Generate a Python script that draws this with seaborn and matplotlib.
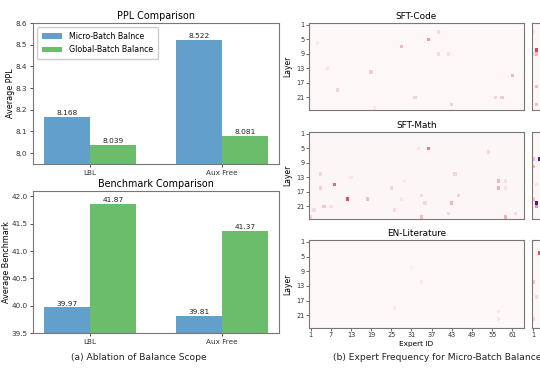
import numpy as np
import pandas as pd
import matplotlib
matplotlib.use("Agg")
import matplotlib.pyplot as plt
import seaborn as sns
from matplotlib.colors import LinearSegmentedColormap

# ---- bar chart data ----
methods = ["LBL", "Aux Free"]
scopes = ["Micro-Batch Balnce", "Global-Batch Balance"]
ppl_micro = [8.168, 8.522]
ppl_global = [8.039, 8.081]
bench_micro = [39.97, 39.81]
bench_global = [41.87, 41.37]

# ---- heatmap data ----
n_layers = 24
n_experts = 64
layer_ticks = [1, 5, 9, 13, 17, 21]
expert_ticks = [1, 7, 13, 19, 25, 31, 37, 43, 49, 55, 61]
base_level = [0.006, 0.008, 0.004, 0.008]
# (layer, expert, intensity) for the cells that stand out, 1-based
code_hot = [(5, 36, 0.28), (7, 28, 0.2), (3, 39, 0.1), (9, 39, 0.1), (9, 42, 0.08),
            (14, 19, 0.15), (15, 61, 0.2), (19, 9, 0.13), (21, 32, 0.13), (21, 56, 0.12),
            (21, 58, 0.15), (23, 43, 0.13), (13, 6, 0.07), (6, 3, 0.05), (24, 20, 0.06)]
math_hot = [(5, 36, 0.35), (15, 8, 0.42), (19, 12, 0.5), (19, 18, 0.18), (16, 4, 0.14),
            (12, 4, 0.12), (21, 5, 0.16), (22, 2, 0.1), (13, 13, 0.07), (16, 25, 0.12),
            (12, 44, 0.12), (18, 45, 0.12), (20, 43, 0.2), (14, 57, 0.2), (16, 57, 0.22),
            (6, 54, 0.1), (24, 59, 0.22), (18, 34, 0.1), (24, 34, 0.18), (20, 35, 0.1),
            (5, 33, 0.06), (22, 26, 0.1), (23, 42, 0.1), (19, 28, 0.06), (24, 1, 0.12),
            (23, 62, 0.1), (14, 59, 0.08), (16, 59, 0.08), (14, 29, 0.05), (21, 7, 0.08)]
lit_hot = [(20, 57, 0.06), (22, 57, 0.06), (12, 34, 0.05), (19, 26, 0.05), (8, 31, 0.04)]
# the next column of panels, only its first experts are inside the picture
next_top_hot = [(8, 2, 0.55), (9, 2, 0.2), (9, 1, 0.1), (18, 2, 0.18), (23, 2, 0.18), (3, 1, 0.06)]
next_mid_hot = [(8, 1, 0.18), (8, 3, 0.95), (10, 1, 0.2), (20, 2, 0.95), (19, 1, 0.15),
                (21, 2, 0.3), (15, 2, 0.08)]
next_bot_hot = [(4, 3, 0.5), (12, 1, 0.18), (16, 2, 0.1), (22, 1, 0.1)]


def build_matrix(base, hot):
    m = np.full((n_layers, n_experts), base)
    for layer, expert, v in hot:
        m[layer - 1, expert - 1] = v
    return pd.DataFrame(m, index=range(1, n_layers + 1), columns=range(1, n_experts + 1))


freq_cmap = LinearSegmentedColormap.from_list(
    "freq", [(0, "#fdf8f8"), (0.15, "#f6c9d1"), (0.35, "#ef7c86"),
             (0.55, "#e2444c"), (0.8, "#9a1f6e"), (1, "#4b1488")])

W, H = 540, 372
fig = plt.figure(figsize=(W / 100, H / 100), dpi=100)
plt.rcParams['font.family'] = ['DejaVu Sans']


def px_axes(x0, y0, x1, y1):
    return fig.add_axes([x0 / W, 1 - y1 / H, (x1 - x0) / W, (y1 - y0) / H])


spine_col = "#777777"
bar_colors = ["#1f77b4", "#2ca02c"]


def bar_panel(ax, micro, glob, ylabel, title, fmt, ylim, yticks, legend):
    df = pd.DataFrame({"method": methods * 2,
                       "scope": [scopes[0]] * 2 + [scopes[1]] * 2,
                       "value": list(micro) + list(glob)})
    sns.barplot(data=df, x="method", y="value", hue="scope", palette=bar_colors,
                width=0.7, saturation=1, alpha=0.7, errorbar=None, ax=ax)
    for c in ax.containers:
        ax.bar_label(c, fmt=fmt, fontsize=5.3, padding=0.5, color="#222222")
    ax.set_ylim(*ylim)
    ax.set_xlim(-0.435, 1.435)
    ax.set_yticks(yticks)
    ax.set_xlabel("")
    ax.set_ylabel(ylabel, fontsize=5.8, labelpad=0.5)
    ax.set_title(title, fontsize=6.9, pad=3)
    ax.tick_params(labelsize=5.2, length=2.5, width=0.6, pad=1.5, colors="#333333")
    for s in ax.spines.values():
        s.set_visible(True)
        s.set_color(spine_col)
        s.set_linewidth(0.8)
    if legend:
        ax.legend(loc="upper left", fontsize=5.7, handlelength=2.6, borderpad=0.6,
                  labelspacing=0.6, framealpha=1, edgecolor="#cccccc")
    else:
        ax.get_legend().remove()


ax_ppl = px_axes(33, 23, 279, 164)
bar_panel(ax_ppl, ppl_micro, ppl_global, "Average PPL", "PPL Comparison", "%.3f",
          (7.95, 8.6), np.round(np.arange(8.0, 8.61, 0.1), 1), True)
ax_bench = px_axes(33, 191, 279, 333)
bar_panel(ax_bench, bench_micro, bench_global, "Average Benchmark", "Benchmark Comparison",
          "%.2f", (39.5, 42.1), np.arange(39.5, 42.01, 0.5), False)


def heat_panel(ax, base, hot, title, show_y, xticks):
    sns.heatmap(build_matrix(base, hot), cmap=freq_cmap, vmin=0, vmax=1, cbar=False,
                xticklabels=False, yticklabels=False, ax=ax)
    for s in ax.spines.values():
        s.set_visible(True)
        s.set_color(spine_col)
        s.set_linewidth(0.8)
    if show_y:
        ax.set_yticks([t - 0.5 for t in layer_ticks])
        ax.set_yticklabels(layer_ticks, rotation=0)
        ax.set_ylabel("Layer", fontsize=5.5, labelpad=3)
    else:
        ax.set_yticks([])
        ax.set_ylabel("")
    if xticks:
        ax.set_xticks([t - 0.5 for t in xticks])
        ax.set_xticklabels(xticks, rotation=0)
        if show_y:
            ax.set_xlabel("Expert ID", fontsize=5.3, labelpad=2)
    else:
        ax.set_xticks([])
        ax.set_xlabel("")
    ax.tick_params(labelsize=4.7, length=2, width=0.5, pad=1, colors="#333333")
    if title:
        ax.set_title(title, fontsize=6.4, pad=3)


rows = [(23, 110), (132, 219), (240, 328)]
heat_panel(px_axes(309, rows[0][0], 524, rows[0][1]), base_level[0], code_hot, "SFT-Code", True, None)
heat_panel(px_axes(309, rows[1][0], 524, rows[1][1]), base_level[1], math_hot, "SFT-Math", True, None)
heat_panel(px_axes(309, rows[2][0], 524, rows[2][1]), base_level[2], lit_hot, "EN-Literature", True,
           expert_ticks)

heat_panel(px_axes(531.5, rows[0][0], 746.5, rows[0][1]), base_level[3], next_top_hot, None, False, None)
heat_panel(px_axes(531.5, rows[1][0], 746.5, rows[1][1]), base_level[3], next_mid_hot, None, False, None)
heat_panel(px_axes(531.5, rows[2][0], 746.5, rows[2][1]), base_level[3], next_bot_hot, None, False,
           expert_ticks[:1])

fig.text(139 / W, 1 - 358 / H, "(a) Ablation of Balance Scope", ha="center", va="center",
         fontsize=6.6, color="#222222")
fig.text(333 / W, 1 - 358 / H, "(b) Expert Frequency for Micro-Batch Balance", ha="left",
         va="center", fontsize=6.6, color="#222222")

fig.savefig("out.png", dpi=100)
